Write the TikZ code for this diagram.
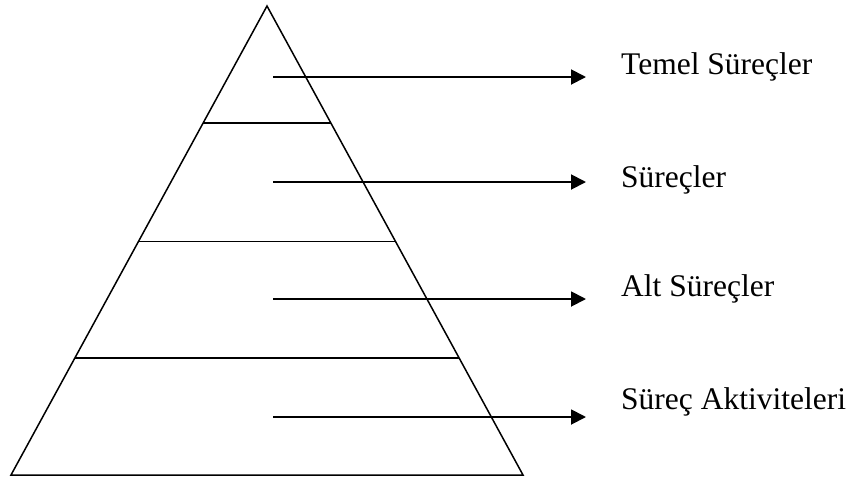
\documentclass[tikz,border=0pt]{standalone}
\usepackage{fontspec}
\setmainfont{Liberation Serif}
\usetikzlibrary{arrows.meta,calc}
\tikzset{
  pyr/.style={draw,black,line width=1.5pt,line join=miter},
  layerline/.style={draw,black,line width=1.7pt},
  lvl-arrow/.style={-{Triangle[length=15pt,width=15pt]},line width=1.9pt,black},
  lvl-label/.style={anchor=base west,inner sep=0pt,font=\fontsize{31.5}{38}\selectfont},
}
\begin{document}
\begin{tikzpicture}[x=1pt,y=-1pt]
  \useasboundingbox (0,0) rectangle (852,483);

  % PYRAMID
  \coordinate (apex) at (267, 6);
  \coordinate (bl)   at (11, 475);
  \coordinate (br)   at (523, 475);
  \draw[pyr] (apex) -- (bl) -- (br) -- cycle;

  % layer lines
  \foreach \t/\n in {0.25/1, 0.502/2, 0.75/3} {
    \coordinate (ll\n) at ($(apex)!\t!(bl)$);
    \coordinate (lr\n) at ($(apex)!\t!(br)$);
    \draw[layerline] (ll\n) -- (lr\n);
  }

  % LABELS
  \node[lvl-label] (temel)  at (621, 74)  {Temel Süreçler};
  \node[lvl-label] (surec)  at (621, 187) {Süreçler};
  \node[lvl-label] (alt)    at (621, 296) {Alt Süreçler};
  \node[lvl-label] (aktiv)  at (621, 409) {Süreç Aktiviteleri};

  % ARROWS
  \coordinate (a1) at (273, 77);  \coordinate (b1) at (586, 77);
  \coordinate (a2) at (273, 182); \coordinate (b2) at (586, 182);
  \coordinate (a3) at (273, 299); \coordinate (b3) at (586, 299);
  \coordinate (a4) at (273, 417); \coordinate (b4) at (586, 417);
  \draw[lvl-arrow] (a1) -- (b1);
  \draw[lvl-arrow] (a2) -- (b2);
  \draw[lvl-arrow] (a3) -- (b3);
  \draw[lvl-arrow] (a4) -- (b4);

\end{tikzpicture}
\end{document}
